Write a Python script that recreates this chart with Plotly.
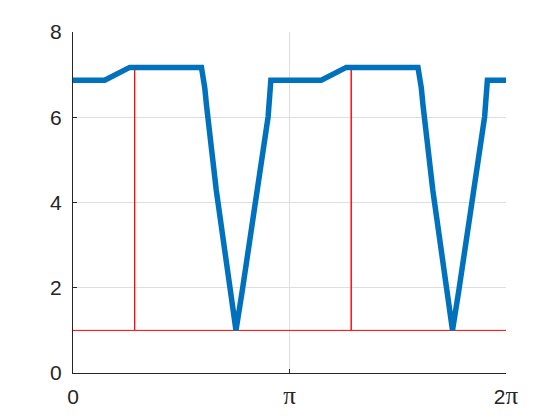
import math
import plotly.graph_objects as go

# Blue series, x in radians
blue_x = [0.0, 0.46, 0.823, 1.864, 1.912, 1.937, 2.079, 2.275, 2.365, 2.458, 2.672, 2.831, 2.871,
          3.602, 3.965, 5.006, 5.054, 5.079, 5.221, 5.417, 5.507, 5.600, 5.814, 5.973, 6.013, 6.2832]
blue_y = [6.87, 6.87, 7.17, 7.17, 6.69, 6.28, 4.29, 1.95, 1.0, 1.95, 4.25, 6.01, 6.87,
          6.87, 7.17, 7.17, 6.69, 6.28, 4.29, 1.95, 1.0, 1.95, 4.25, 6.01, 6.87, 6.87]

# Red series
red_x = [0.0, 0.895, 0.895, 0.895, 4.037, 4.037, 4.037, 6.2832]
red_y = [1.0, 1.0, 7.17, 1.0, 1.0, 7.17, 1.0, 1.0]

PI = "<span style=\"font-family:'Liberation Serif';font-size:25px\">π</span>"
x_tickvals = [0, math.pi, 2 * math.pi]
x_ticktext = ["0", PI, "2" + PI]
y_tickvals = [0, 2, 4, 6, 8]

fig = go.Figure()
fig.add_trace(go.Scatter(x=red_x, y=red_y, mode="lines",
                         line=dict(color="#FF0000", width=1), showlegend=False))
fig.add_trace(go.Scatter(x=blue_x, y=blue_y, mode="lines",
                         line=dict(color="#0072BD", width=5.5), showlegend=False))

axis_common = dict(showgrid=True, gridcolor="#DEDEDE", gridwidth=1,
                   showline=True, linecolor="#262626", linewidth=1,
                   ticks="inside", ticklen=4, tickcolor="#262626",
                   zeroline=False, mirror=False,
                   tickfont=dict(family="Liberation Sans, Arial", size=21, color="#262626"))

fig.update_layout(
    width=560, height=420,
    paper_bgcolor="white", plot_bgcolor="white",
    margin=dict(l=65, r=62, t=24, b=55),
    xaxis=dict(range=[0, 2 * math.pi], tickvals=x_tickvals, ticktext=x_ticktext,
               ticklabelstandoff=5, **axis_common),
    yaxis=dict(range=[0, 8], tickvals=y_tickvals, ticklabelstandoff=6, **axis_common),
)

fig.write_html("out.html")
